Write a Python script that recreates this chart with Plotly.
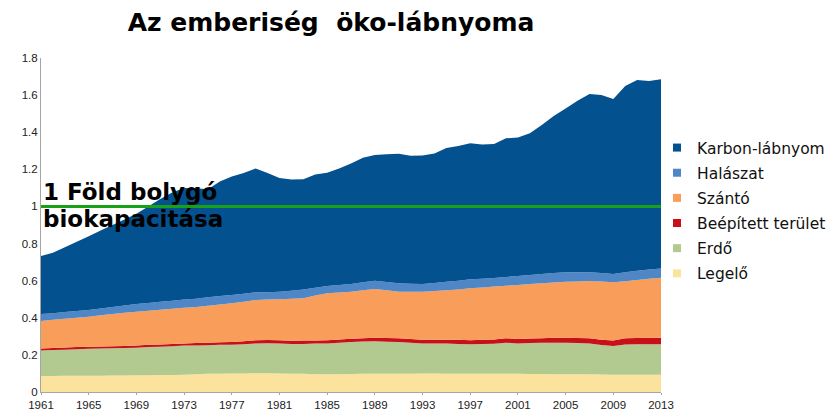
import plotly.graph_objects as go

years = list(range(1961, 2014))

legelo = [.086,.086,.087,.087,.088,.088,.089,.089,.090,.090,
          .091,.092,.093,.096,.098,.099,.100,.100,.101,.101,
          .100,.099,.098,.096,.095,.096,.097,.098,.098,.098,
          .099,.099,.100,.100,.099,.098,.098,.098,.098,.098,
          .098,.097,.097,.096,.096,.095,.095,.094,.093,.093,
          .093,.093,.093]
erdo = [.137,.140,.141,.144,.145,.146,.147,.148,.149,.152,
        .153,.155,.157,.155,.154,.155,.155,.158,.161,.162,
        .162,.160,.161,.165,.167,.169,.172,.174,.175,.173,
        .170,.166,.162,.162,.162,.161,.159,.161,.162,.168,
        .164,.167,.168,.170,.170,.169,.167,.159,.155,.163,
        .164,.164,.164]
beepitett = [.012,.011,.012,.011,.011,.011,.011,.011,.011,.012,
             .012,.012,.012,.013,.014,.014,.014,.016,.017,.017,
             .017,.017,.018,.017,.017,.018,.018,.018,.019,.020,
             .020,.020,.019,.020,.021,.022,.022,.023,.023,.024,
             .024,.024,.025,.026,.027,.027,.027,.029,.030,.033,
             .034,.035,.036]
szanto = [.148,.152,.155,.158,.162,.168,.173,.179,.183,.184,
          .187,.190,.192,.194,.199,.204,.209,.213,.217,.218,
          .221,.226,.228,.242,.253,.253,.253,.258,.263,.257,
          .251,.255,.259,.262,.266,.271,.280,.281,.285,.283,
          .291,.294,.296,.298,.301,.305,.309,.313,.313,.308,
          .312,.318,.323]
halaszat = [.037,.036,.036,.037,.036,.037,.038,.039,.041,.042,
            .043,.043,.045,.045,.045,.045,.045,.043,.041,.040,
            .040,.043,.048,.042,.039,.041,.042,.043,.045,.045,
            .046,.044,.042,.044,.046,.047,.048,.047,.046,.047,
            .048,.048,.050,.051,.051,.050,.047,.046,.045,.049,
            .051,.050,.050]
karbon = [.313,.325,.349,.373,.398,.420,.442,.464,.486,.520,
          .554,.583,.601,.595,.582,.618,.639,.650,.668,.642,
          .613,.600,.594,.610,.611,.628,.650,.671,.677,.688,
          .698,.689,.693,.698,.721,.727,.733,.724,.722,.747,
          .747,.764,.803,.846,.883,.924,.961,.959,.943,1.003,
          1.027,1.016,1.019]

series_names = ["Legelő", "Erdő", "Beépített terület", "Szántó", "Halászat", "Karbon-lábnyom"]
series_values = [legelo, erdo, beepitett, szanto, halaszat, karbon]
series_colors = ["#FCE39D", "#B2CA8F", "#C8101A", "#F99D5A", "#4F86C6", "#04518F"]

tick_years = list(range(1961, 2014, 4))
y_ticks = [0, 0.2, 0.4, 0.6, 0.8, 1, 1.2, 1.4, 1.6, 1.8]
y_tick_labels = ["0", "0.2", "0.4", "0.6", "0.8", "1", "1.2", "1.4", "1.6", "1.8"]
biocapacity = 1.0
label_lines = ["1 Föld bolygó", "biokapacitása"]

# page body has an 8px margin: size the figure so it fills the 840x411 window
W, H = 832, 403

fig = go.Figure()
for name, vals, col in zip(series_names, series_values, series_colors):
    fig.add_trace(go.Scatter(
        x=years, y=vals, name=name, stackgroup="one", mode="none",
        fillcolor=col, line=dict(width=0), showlegend=False, hoverinfo="skip"))

# biocapacity reference line
fig.add_trace(go.Scatter(
    x=[years[0], years[-1]], y=[biocapacity, biocapacity], mode="lines",
    line=dict(color="#17A117", width=3), showlegend=False, hoverinfo="skip"))

# legend entries (small squares), top-down order
for i, (name, col) in enumerate(reversed(list(zip(series_names, series_colors)))):
    fig.add_trace(go.Scatter(
        x=[None], y=[None], mode="markers", name=name,
        marker=dict(symbol="square", size=8, color=col),
        legendgroup=f"g{i}", showlegend=True))

for line_text, shift in zip(label_lines, [14, -13]):
    fig.add_annotation(
        text=line_text, xref="paper", yref="y",
        x=0.0, y=biocapacity, xanchor="left", yanchor="middle", yshift=shift,
        showarrow=False,
        font=dict(family="DejaVu Sans", size=23, color="black", weight="bold"))

fig.update_layout(
    width=W, height=H,
    margin=dict(l=33, r=179, t=50, b=19, autoexpand=False),
    paper_bgcolor="white", plot_bgcolor="white",
    title=dict(text="Az emberiség\u00a0 öko-lábnyoma", x=323/W, xanchor="center",
               xref="container", y=1 - 14/H, yanchor="middle", yref="container",
               font=dict(family="DejaVu Sans", size=25, color="black", weight="bold")),
    legend=dict(x=649/W, xanchor="left", xref="container",
                y=1 - 123/H, yanchor="top", yref="container",
                font=dict(family="DejaVu Sans", size=15.5, color="#111111"),
                traceorder="grouped", tracegroupgap=2, bgcolor="rgba(0,0,0,0)"),
    showlegend=True,
)
fig.update_xaxes(range=[1961, 2013], tickvals=tick_years, ticktext=[str(t) for t in tick_years],
                 showgrid=False, zeroline=False, showline=True, linecolor="#A6A6A6", linewidth=1,
                 ticks="outside", ticklen=2, tickcolor="#A6A6A6", automargin=False,
                 tickfont=dict(family="Liberation Sans", size=11.5, color="#222222"))
fig.update_yaxes(range=[0, 1.8], tickvals=y_ticks, ticktext=y_tick_labels,
                 showgrid=False, zeroline=False, showline=True, linecolor="#A6A6A6", linewidth=1,
                 ticks="", automargin=False,
                 tickfont=dict(family="Liberation Sans", size=11.5, color="#222222"))

fig.write_html("out.html")
